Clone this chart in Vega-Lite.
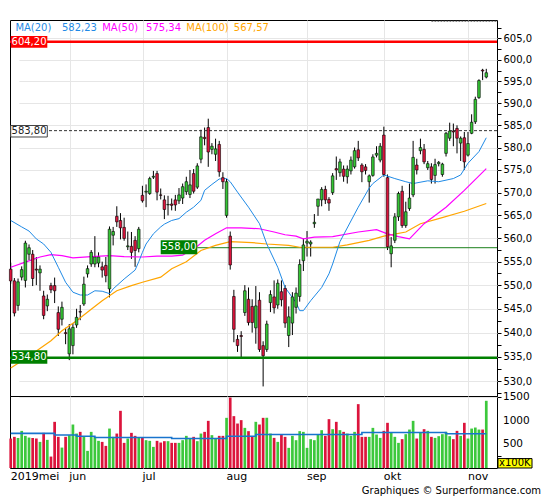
{
  "$schema": "https://vega.github.io/schema/vega-lite/v6.json",
  "padding": {"left": 7, "top": 19, "right": 45, "bottom": 20},
  "background": "white",
  "title": {"text": "Graphiques © Surperformance.com", "orient": "bottom", "anchor": "end", "font": "DejaVu Sans", "fontSize": 10, "fontWeight": "normal", "color": "#000", "offset": 4, "dx": 8},
  "config": {
    "font": "DejaVu Sans",
    "view": {"stroke": "#000", "strokeWidth": 1},
    "axis": {"labelFont": "DejaVu Sans", "labelColor": "#000", "gridColor": "#e6e6e6", "tickColor": "#000", "domain": false},
    "text": {"font": "DejaVu Sans"}
  },
  "datasets": {
    "ohlc": [
      {"date":"2019-05-10","open":553.4,"high":554.8,"low":550.3,"close":550.9,"volume":626},
      {"date":"2019-05-13","open":550.9,"high":551.5,"low":543.4,"close":544.1,"volume":662},
      {"date":"2019-05-14","open":545.7,"high":551.4,"low":544.6,"close":550.7,"volume":640},
      {"date":"2019-05-15","open":551.7,"high":554.0,"low":551.0,"close":553.3,"volume":789},
      {"date":"2019-05-16","open":551.0,"high":559.5,"low":549.5,"close":559.0,"volume":683},
      {"date":"2019-05-17","open":556.6,"high":558.7,"low":555.3,"close":558.0,"volume":647},
      {"date":"2019-05-20","open":556.6,"high":557.5,"low":549.8,"close":551.4,"volume":640},
      {"date":"2019-05-21","open":553.4,"high":556.0,"low":550.0,"close":553.2,"volume":626},
      {"date":"2019-05-22","open":552.6,"high":554.2,"low":548.8,"close":553.4,"volume":555},
      {"date":"2019-05-23","open":547.7,"high":548.8,"low":542.8,"close":543.6,"volume":747},
      {"date":"2019-05-24","open":545.6,"high":548.0,"low":544.5,"close":547.0,"volume":598},
      {"date":"2019-05-27","open":549.9,"high":550.5,"low":548.3,"close":549.0,"volume":243},
      {"date":"2019-05-28","open":549.9,"high":551.6,"low":546.2,"close":548.8,"volume":981},
      {"date":"2019-05-29","open":544.2,"high":545.5,"low":539.3,"close":540.7,"volume":662},
      {"date":"2019-05-30","open":542.8,"high":546.5,"low":541.5,"close":545.3,"volume":434},
      {"date":"2019-05-31","open":540.0,"high":541.0,"low":537.6,"close":539.8,"volume":662},
      {"date":"2019-06-03","open":535.6,"high":541.8,"low":534.3,"close":540.8,"volume":698},
      {"date":"2019-06-04","open":537.3,"high":542.0,"low":535.5,"close":541.1,"volume":924},
      {"date":"2019-06-05","open":541.6,"high":545.0,"low":541.0,"close":543.2,"volume":732},
      {"date":"2019-06-06","open":544.4,"high":545.8,"low":542.6,"close":544.3,"volume":768},
      {"date":"2019-06-07","open":546.0,"high":551.8,"low":545.6,"close":550.2,"volume":676},
      {"date":"2019-06-10","open":552.4,"high":554.2,"low":551.6,"close":553.5,"volume":364},
      {"date":"2019-06-11","open":554.5,"high":557.5,"low":553.9,"close":557.0,"volume":768},
      {"date":"2019-06-12","open":554.5,"high":560.5,"low":553.8,"close":556.0,"volume":662},
      {"date":"2019-06-13","open":554.7,"high":557.0,"low":553.8,"close":556.0,"volume":577},
      {"date":"2019-06-14","open":553.9,"high":555.0,"low":551.6,"close":553.2,"volume":555},
      {"date":"2019-06-17","open":554.2,"high":556.0,"low":550.6,"close":552.0,"volume":470},
      {"date":"2019-06-18","open":549.2,"high":562.6,"low":547.4,"close":562.0,"volume":838},
      {"date":"2019-06-19","open":560.7,"high":562.5,"low":558.5,"close":561.5,"volume":662},
      {"date":"2019-06-20","open":564.8,"high":567.0,"low":562.5,"close":563.6,"volume":732},
      {"date":"2019-06-21","open":563.9,"high":565.5,"low":559.8,"close":562.3,"volume":1215},
      {"date":"2019-06-24","open":562.4,"high":564.5,"low":559.5,"close":560.0,"volume":534},
      {"date":"2019-06-25","open":558.2,"high":561.5,"low":557.5,"close":558.4,"volume":626},
      {"date":"2019-06-26","open":558.3,"high":561.4,"low":555.6,"close":557.0,"volume":747},
      {"date":"2019-06-27","open":559.6,"high":560.5,"low":553.9,"close":557.4,"volume":683},
      {"date":"2019-06-28","open":557.8,"high":562.5,"low":557.0,"close":562.0,"volume":647},
      {"date":"2019-07-01","open":569.4,"high":571.5,"low":567.8,"close":568.2,"volume":647},
      {"date":"2019-07-02","open":570.1,"high":571.8,"low":566.8,"close":570.3,"volume":591},
      {"date":"2019-07-03","open":569.8,"high":573.5,"low":569.5,"close":573.1,"volume":577},
      {"date":"2019-07-04","open":573.4,"high":574.8,"low":573.0,"close":573.6,"volume":449},
      {"date":"2019-07-05","open":574.2,"high":574.8,"low":568.3,"close":570.1,"volume":577},
      {"date":"2019-07-08","open":569.5,"high":570.9,"low":568.5,"close":569.4,"volume":541},
      {"date":"2019-07-09","open":568.4,"high":569.4,"low":564.2,"close":566.3,"volume":570},
      {"date":"2019-07-10","open":567.3,"high":569.3,"low":565.0,"close":567.4,"volume":570},
      {"date":"2019-07-11","open":567.5,"high":568.7,"low":566.1,"close":567.2,"volume":534},
      {"date":"2019-07-12","open":568.4,"high":569.5,"low":566.0,"close":567.3,"volume":534},
      {"date":"2019-07-15","open":568.2,"high":571.0,"low":567.5,"close":569.5,"volume":534},
      {"date":"2019-07-16","open":568.8,"high":572.0,"low":567.5,"close":571.3,"volume":591},
      {"date":"2019-07-17","open":570.2,"high":573.5,"low":569.5,"close":572.4,"volume":683},
      {"date":"2019-07-18","open":569.6,"high":575.0,"low":568.8,"close":571.7,"volume":626},
      {"date":"2019-07-19","open":574.2,"high":575.2,"low":569.8,"close":570.3,"volume":662},
      {"date":"2019-07-22","open":571.2,"high":576.5,"low":570.8,"close":575.9,"volume":570},
      {"date":"2019-07-23","open":577.4,"high":584.0,"low":576.5,"close":582.4,"volume":732},
      {"date":"2019-07-24","open":582.3,"high":584.5,"low":580.5,"close":582.0,"volume":768},
      {"date":"2019-07-25","open":584.5,"high":586.5,"low":575.7,"close":579.0,"volume":1002},
      {"date":"2019-07-26","open":579.6,"high":581.0,"low":578.5,"close":580.3,"volume":698},
      {"date":"2019-07-29","open":578.5,"high":582.0,"low":577.0,"close":579.7,"volume":626},
      {"date":"2019-07-30","open":580.7,"high":581.5,"low":573.5,"close":574.6,"volume":683},
      {"date":"2019-07-31","open":573.3,"high":574.5,"low":570.8,"close":572.4,"volume":683},
      {"date":"2019-08-01","open":565.0,"high":573.0,"low":564.5,"close":572.4,"volume":1066},
      {"date":"2019-08-02","open":560.5,"high":561.5,"low":553.3,"close":554.3,"volume":1498},
      {"date":"2019-08-05","open":547.6,"high":549.0,"low":538.0,"close":540.7,"volume":1102},
      {"date":"2019-08-06","open":538.6,"high":539.5,"low":536.0,"close":537.3,"volume":945},
      {"date":"2019-08-07","open":539.4,"high":540.3,"low":534.8,"close":539.2,"volume":1017},
      {"date":"2019-08-08","open":544.2,"high":550.0,"low":543.5,"close":548.8,"volume":853},
      {"date":"2019-08-09","open":547.0,"high":549.5,"low":541.5,"close":542.1,"volume":783},
      {"date":"2019-08-12","open":545.5,"high":547.0,"low":540.0,"close":542.1,"volume":662},
      {"date":"2019-08-13","open":541.0,"high":549.8,"low":537.7,"close":545.6,"volume":981},
      {"date":"2019-08-14","open":546.8,"high":548.5,"low":536.0,"close":536.5,"volume":924},
      {"date":"2019-08-15","open":537.3,"high":538.2,"low":528.9,"close":535.2,"volume":1066},
      {"date":"2019-08-16","open":536.5,"high":542.5,"low":536.0,"close":541.8,"volume":1066},
      {"date":"2019-08-19","open":546.3,"high":548.9,"low":544.3,"close":548.0,"volume":732},
      {"date":"2019-08-20","open":547.5,"high":551.0,"low":544.0,"close":545.2,"volume":640},
      {"date":"2019-08-21","open":545.8,"high":551.2,"low":545.0,"close":550.4,"volume":555},
      {"date":"2019-08-22","open":548.6,"high":551.0,"low":545.5,"close":546.9,"volume":711},
      {"date":"2019-08-23","open":549.3,"high":550.0,"low":541.0,"close":542.0,"volume":662},
      {"date":"2019-08-26","open":539.4,"high":545.5,"low":537.0,"close":543.3,"volume":428},
      {"date":"2019-08-27","open":542.0,"high":548.5,"low":539.5,"close":547.5,"volume":683},
      {"date":"2019-08-28","open":545.3,"high":549.5,"low":544.0,"close":548.3,"volume":591},
      {"date":"2019-08-29","open":547.6,"high":555.5,"low":546.5,"close":554.4,"volume":783},
      {"date":"2019-08-30","open":555.2,"high":560.0,"low":553.0,"close":558.6,"volume":768},
      {"date":"2019-09-02","open":559.0,"high":561.6,"low":556.1,"close":559.4,"volume":428},
      {"date":"2019-09-03","open":558.8,"high":559.6,"low":556.1,"close":559.2,"volume":613},
      {"date":"2019-09-04","open":563.2,"high":565.3,"low":562.3,"close":563.5,"volume":591},
      {"date":"2019-09-05","open":567.0,"high":568.6,"low":564.9,"close":568.6,"volume":719},
      {"date":"2019-09-06","open":568.4,"high":571.2,"low":567.0,"close":570.7,"volume":804},
      {"date":"2019-09-09","open":570.7,"high":571.5,"low":567.5,"close":568.4,"volume":683},
      {"date":"2019-09-10","open":568.5,"high":569.0,"low":566.0,"close":567.7,"volume":1038},
      {"date":"2019-09-11","open":570.0,"high":574.3,"low":569.5,"close":573.7,"volume":825},
      {"date":"2019-09-12","open":575.3,"high":578.0,"low":572.8,"close":575.0,"volume":981},
      {"date":"2019-09-13","open":574.4,"high":577.5,"low":573.5,"close":576.8,"volume":804},
      {"date":"2019-09-16","open":575.2,"high":576.0,"low":572.4,"close":573.6,"volume":768},
      {"date":"2019-09-17","open":573.5,"high":576.0,"low":572.0,"close":575.2,"volume":732},
      {"date":"2019-09-18","open":574.8,"high":578.0,"low":574.0,"close":577.2,"volume":683},
      {"date":"2019-09-19","open":575.7,"high":580.0,"low":575.3,"close":579.3,"volume":768},
      {"date":"2019-09-20","open":579.5,"high":581.5,"low":577.0,"close":577.7,"volume":1357},
      {"date":"2019-09-23","open":576.1,"high":576.5,"low":572.3,"close":574.6,"volume":662},
      {"date":"2019-09-24","open":575.7,"high":576.3,"low":574.0,"close":574.9,"volume":662},
      {"date":"2019-09-25","open":572.4,"high":574.0,"low":567.8,"close":573.7,"volume":662},
      {"date":"2019-09-26","open":573.8,"high":578.5,"low":573.5,"close":577.9,"volume":853},
      {"date":"2019-09-27","open":578.3,"high":580.3,"low":577.8,"close":578.7,"volume":711},
      {"date":"2019-09-30","open":577.2,"high":581.0,"low":576.7,"close":580.3,"volume":640},
      {"date":"2019-10-01","open":582.8,"high":584.7,"low":573.5,"close":574.0,"volume":789},
      {"date":"2019-10-02","open":573.3,"high":574.0,"low":557.5,"close":558.2,"volume":960},
      {"date":"2019-10-03","open":556.7,"high":560.3,"low":553.8,"close":558.4,"volume":753},
      {"date":"2019-10-04","open":559.6,"high":565.5,"low":559.0,"close":564.7,"volume":662},
      {"date":"2019-10-07","open":564.7,"high":570.2,"low":563.8,"close":569.8,"volume":534},
      {"date":"2019-10-08","open":570.3,"high":571.5,"low":562.3,"close":562.8,"volume":613},
      {"date":"2019-10-09","open":562.8,"high":568.0,"low":562.3,"close":565.8,"volume":719},
      {"date":"2019-10-10","open":566.5,"high":572.0,"low":566.0,"close":568.8,"volume":817},
      {"date":"2019-10-11","open":569.5,"high":581.5,"low":569.0,"close":577.8,"volume":1002},
      {"date":"2019-10-14","open":576.1,"high":577.5,"low":574.0,"close":575.0,"volume":626},
      {"date":"2019-10-15","open":579.3,"high":582.0,"low":578.5,"close":580.0,"volume":753},
      {"date":"2019-10-16","open":579.6,"high":580.8,"low":576.3,"close":576.8,"volume":825},
      {"date":"2019-10-17","open":575.5,"high":577.0,"low":575.0,"close":576.4,"volume":789},
      {"date":"2019-10-18","open":575.7,"high":576.5,"low":572.0,"close":572.9,"volume":662},
      {"date":"2019-10-21","open":573.8,"high":577.5,"low":572.0,"close":576.2,"volume":640},
      {"date":"2019-10-22","open":576.4,"high":577.0,"low":575.8,"close":576.7,"volume":676},
      {"date":"2019-10-23","open":574.0,"high":576.6,"low":573.5,"close":576.3,"volume":719},
      {"date":"2019-10-24","open":578.7,"high":583.5,"low":578.0,"close":583.2,"volume":768},
      {"date":"2019-10-25","open":582.1,"high":585.6,"low":581.5,"close":583.7,"volume":676},
      {"date":"2019-10-28","open":583.7,"high":585.4,"low":580.3,"close":583.5,"volume":613},
      {"date":"2019-10-29","open":584.3,"high":585.0,"low":578.7,"close":582.1,"volume":789},
      {"date":"2019-10-30","open":581.0,"high":582.5,"low":577.0,"close":582.1,"volume":683},
      {"date":"2019-10-31","open":582.2,"high":583.5,"low":575.0,"close":576.8,"volume":960},
      {"date":"2019-11-01","open":578.3,"high":583.5,"low":578.0,"close":580.9,"volume":626},
      {"date":"2019-11-04","open":583.2,"high":587.5,"low":583.0,"close":585.7,"volume":838},
      {"date":"2019-11-05","open":585.8,"high":591.5,"low":585.3,"close":590.9,"volume":860},
      {"date":"2019-11-06","open":591.3,"high":595.5,"low":591.0,"close":595.2,"volume":817},
      {"date":"2019-11-07","open":597.6,"high":597.9,"low":595.3,"close":597.4,"volume":817},
      {"date":"2019-11-08","open":596.0,"high":597.9,"low":595.7,"close":597.0,"volume":1428}
    ],
    "ma20": [
      {"date":"2019-05-10","v":563.9},{"date":"2019-05-15","v":562.5},{"date":"2019-05-17","v":561.6},
      {"date":"2019-05-21","v":559.9},{"date":"2019-05-23","v":558.8},{"date":"2019-05-27","v":557.0},
      {"date":"2019-05-29","v":553.8},{"date":"2019-05-31","v":550.6},{"date":"2019-06-04","v":548.5},
      {"date":"2019-06-06","v":547.9},{"date":"2019-06-10","v":547.9},{"date":"2019-06-12","v":548.8},
      {"date":"2019-06-14","v":548.7},{"date":"2019-06-18","v":548.2},{"date":"2019-06-19","v":549.2},
      {"date":"2019-06-24","v":551.3},{"date":"2019-06-27","v":553.2},{"date":"2019-06-28","v":555.0},
      {"date":"2019-07-01","v":557.0},{"date":"2019-07-02","v":558.8},{"date":"2019-07-04","v":561.0},
      {"date":"2019-07-08","v":562.5},{"date":"2019-07-09","v":563.1},{"date":"2019-07-11","v":563.9},
      {"date":"2019-07-15","v":564.3},{"date":"2019-07-17","v":565.7},{"date":"2019-07-19","v":566.8},
      {"date":"2019-07-23","v":568.3},{"date":"2019-07-24","v":570.5},{"date":"2019-07-26","v":571.8},
      {"date":"2019-07-30","v":573.0},{"date":"2019-08-01","v":573.1},{"date":"2019-08-02","v":572.4},
      {"date":"2019-08-06","v":570.1},{"date":"2019-08-09","v":566.8},{"date":"2019-08-14","v":563.2},
      {"date":"2019-08-16","v":558.8},{"date":"2019-08-21","v":553.8},{"date":"2019-08-23","v":549.5},
      {"date":"2019-08-28","v":546.3},{"date":"2019-08-29","v":544.6},{"date":"2019-08-30","v":544.6},
      {"date":"2019-09-03","v":546.7},{"date":"2019-09-06","v":549.5},{"date":"2019-09-10","v":552.4},
      {"date":"2019-09-11","v":554.5},{"date":"2019-09-13","v":559.3},{"date":"2019-09-20","v":566.8},
      {"date":"2019-09-25","v":571.0},{"date":"2019-09-26","v":572.0},{"date":"2019-10-01","v":573.9},
      {"date":"2019-10-04","v":573.1},{"date":"2019-10-09","v":572.4},{"date":"2019-10-11","v":572.0},
      {"date":"2019-10-17","v":572.6},{"date":"2019-10-22","v":572.4},{"date":"2019-10-28","v":573.1},
      {"date":"2019-10-30","v":573.9},{"date":"2019-11-01","v":576.5},{"date":"2019-11-06","v":579.1},
      {"date":"2019-11-08","v":582.2}
    ],
    "ma50": [
      {"date":"2019-05-10","v":553.8},{"date":"2019-05-16","v":554.9},{"date":"2019-05-22","v":556.0},
      {"date":"2019-05-27","v":556.5},{"date":"2019-05-30","v":556.3},{"date":"2019-06-04","v":555.8},
      {"date":"2019-06-11","v":556.1},{"date":"2019-06-18","v":556.3},{"date":"2019-06-24","v":556.1},
      {"date":"2019-07-01","v":556.0},{"date":"2019-07-05","v":556.2},{"date":"2019-07-11","v":556.2},
      {"date":"2019-07-16","v":556.4},{"date":"2019-07-22","v":558.3},{"date":"2019-07-24","v":559.6},
      {"date":"2019-07-29","v":561.0},{"date":"2019-08-01","v":562.3},{"date":"2019-08-07","v":562.3},
      {"date":"2019-08-14","v":562.1},{"date":"2019-08-20","v":561.4},{"date":"2019-08-23","v":560.8},
      {"date":"2019-08-28","v":560.5},{"date":"2019-08-30","v":559.9},{"date":"2019-09-04","v":560.3},
      {"date":"2019-09-11","v":560.4},{"date":"2019-09-20","v":561.4},{"date":"2019-09-27","v":561.9},
      {"date":"2019-10-02","v":561.0},{"date":"2019-10-07","v":560.4},{"date":"2019-10-10","v":559.9},
      {"date":"2019-10-16","v":563.2},{"date":"2019-10-24","v":566.8},{"date":"2019-10-31","v":570.5},
      {"date":"2019-11-08","v":575.3}
    ],
    "ma100": [
      {"date":"2019-05-10","v":532.7},{"date":"2019-05-15","v":534.1},{"date":"2019-05-21","v":536.2},
      {"date":"2019-05-27","v":538.3},{"date":"2019-05-30","v":540.4},{"date":"2019-06-05","v":542.5},
      {"date":"2019-06-11","v":544.9},{"date":"2019-06-14","v":546.7},{"date":"2019-06-20","v":548.8},
      {"date":"2019-06-26","v":549.9},{"date":"2019-07-01","v":550.6},{"date":"2019-07-08","v":551.7},
      {"date":"2019-07-11","v":553.5},{"date":"2019-07-17","v":555.0},{"date":"2019-07-23","v":557.4},
      {"date":"2019-07-29","v":558.5},{"date":"2019-08-02","v":559.3},{"date":"2019-08-12","v":559.1},
      {"date":"2019-08-16","v":558.8},{"date":"2019-08-26","v":558.5},{"date":"2019-08-29","v":558.1},
      {"date":"2019-09-06","v":558.1},{"date":"2019-09-11","v":558.1},{"date":"2019-09-17","v":558.6},
      {"date":"2019-09-25","v":559.6},{"date":"2019-10-01","v":560.5},{"date":"2019-10-09","v":561.4},
      {"date":"2019-10-15","v":563.2},{"date":"2019-10-22","v":564.3},{"date":"2019-10-31","v":565.9},
      {"date":"2019-11-08","v":567.6}
    ],
    "vma": [
      {"date":"2019-05-10","v":735},{"date":"2019-05-28","v":700},{"date":"2019-06-05","v":676},
      {"date":"2019-06-12","v":648},{"date":"2019-07-11","v":628},{"date":"2019-08-01","v":676},
      {"date":"2019-08-13","v":711},{"date":"2019-09-23","v":753},{"date":"2019-10-24","v":728},
      {"date":"2019-11-08","v":728}
    ],
    "one": [{}]
  },
  "vconcat": [
    {
      "width": 487,
      "height": 376,
      "layer": [
        {"data": {"name": "ohlc"}, "mark": {"type": "rule", "color": "#000000", "strokeWidth": 1},
         "encoding": {
           "x": {"field": "date", "type": "ordinal", "scale": {"type": "band", "range": [-1.1, 478.1], "paddingInner": 0, "paddingOuter": 0},
                 "axis": {"title": null, "values": ["2019-06-03","2019-07-01","2019-08-01","2019-09-02","2019-10-01","2019-11-01"], "bandPosition": 0.75, "labels": false, "ticks": false, "domain": false, "grid": true, "gridColor": "#e6e6e6"}},
           "y": {"field": "low", "type": "quantitative", "scale": {"type": "log", "domain": [526.95, 609.28], "nice": false},
                 "axis": {"orient": "right", "title": null,
                          "values": [527.5,530,532.5,535,537.5,540,542.5,545,547.5,550,552.5,555,557.5,560,562.5,565,567.5,570,572.5,575,577.5,580,582.5,585,587.5,590,592.5,595,597.5,600,602.5,605,607.5],
                          "labelExpr": "datum.value % 5 == 0 ? replace(format(datum.value, '.1f'), '.', ',') : ''",
                          "gridOpacity": {"condition": {"test": "datum.value % 5 != 0", "value": 0}, "value": 1},
                          "grid": true, "gridColor": "#e6e6e6", "tickSize": 4, "labelFontSize": 10, "labelPadding": 2, "labelOverlap": false, "labelBound": false}},
           "y2": {"field": "high"}
         }},
        {"data": {"name": "one"}, "mark": {"type": "rule", "color": "#ff0000", "strokeWidth": 2.5}, "encoding": {"y": {"datum": 604.2}}},
        {"data": {"name": "one"}, "mark": {"type": "rule", "color": "#333333", "strokeWidth": 1, "strokeDash": [3, 2]}, "encoding": {"y": {"datum": 583.8}}},
        {"data": {"name": "one"}, "mark": {"type": "rule", "color": "#008000", "strokeWidth": 2.5}, "encoding": {"y": {"datum": 534.8}}},
        {"data": {"name": "one"}, "mark": {"type": "rule", "color": "#1a7f1a", "strokeWidth": 1}, "encoding": {"x": {"datum": "2019-07-22"}, "x2": {"value": "width"}, "y": {"datum": 558.0}}},
        {"data": {"name": "one"}, "mark": {"type": "rule", "color": "#555555", "strokeWidth": 1, "strokeDash": [2, 1]}, "encoding": {"x": {"datum": "2019-10-18"}, "x2": {"value": "width"}, "y": {"datum": 609.0}}},
        {"data": {"name": "ma100"}, "mark": {"type": "line", "color": "#FFA500", "strokeWidth": 1.2},
         "encoding": {"x": {"field": "date", "type": "ordinal", "title": null}, "y": {"field": "v", "type": "quantitative", "title": null}}},
        {"data": {"name": "ma50"}, "mark": {"type": "line", "color": "#FF00FF", "strokeWidth": 1.2},
         "encoding": {"x": {"field": "date", "type": "ordinal", "title": null}, "y": {"field": "v", "type": "quantitative", "title": null}}},
        {"data": {"name": "ma20"}, "mark": {"type": "line", "color": "#1F8AE6", "strokeWidth": 1},
         "encoding": {"x": {"field": "date", "type": "ordinal", "title": null}, "y": {"field": "v", "type": "quantitative", "title": null}}},
        {"data": {"name": "ohlc"}, "mark": {"type": "bar", "width": {"band": 0.72}, "stroke": "#000000", "strokeWidth": 0.6},
         "encoding": {"x": {"field": "date", "type": "ordinal", "title": null}, "y": {"field": "open", "type": "quantitative", "title": null}, "y2": {"field": "close"},
                      "color": {"condition": {"test": "datum.close >= datum.open", "value": "#34C634"}, "value": "#DC143C"}}},
        {"data": {"name": "one"}, "mark": {"type": "rect", "color": "#ff0000"}, "encoding": {"x": {"datum": "2019-05-10"}, "x2": {"datum": "2019-05-24"}, "y": {"datum": 605.53}, "y2": {"datum": 602.8}}},
        {"data": {"name": "one"}, "mark": {"type": "text", "text": "604,20", "color": "#ffffff", "fontSize": 10, "align": "center", "baseline": "middle"}, "encoding": {"x": {"datum": "2019-05-17"}, "y": {"datum": 604.2}}},
        {"data": {"name": "one"}, "mark": {"type": "rect", "color": "#ffffff", "stroke": "#444444", "strokeWidth": 1}, "encoding": {"x": {"datum": "2019-05-10"}, "x2": {"datum": "2019-05-24"}, "y": {"datum": 584.96}, "y2": {"datum": 582.37}}},
        {"data": {"name": "one"}, "mark": {"type": "text", "text": "583,80", "color": "#222222", "fontSize": 10, "align": "center", "baseline": "middle"}, "encoding": {"x": {"datum": "2019-05-17"}, "y": {"datum": 583.7}}},
        {"data": {"name": "one"}, "mark": {"type": "rect", "color": "#008000"}, "encoding": {"x": {"datum": "2019-07-08"}, "x2": {"datum": "2019-07-22"}, "y": {"datum": 559.6}, "y2": {"datum": 556.59}}},
        {"data": {"name": "one"}, "mark": {"type": "text", "text": "558,00", "color": "#ffffff", "fontSize": 10, "align": "center", "baseline": "middle"}, "encoding": {"x": {"datum": "2019-07-15"}, "y": {"datum": 558.1}}},
        {"data": {"name": "one"}, "mark": {"type": "rect", "color": "#008000"}, "encoding": {"x": {"datum": "2019-05-10"}, "x2": {"datum": "2019-05-24"}, "y": {"datum": 536.34}, "y2": {"datum": 533.57}}},
        {"data": {"name": "one"}, "mark": {"type": "text", "text": "534,80", "color": "#ffffff", "fontSize": 10, "align": "center", "baseline": "middle"}, "encoding": {"x": {"datum": "2019-05-17"}, "y": {"datum": 534.9}}},
        {"data": {"name": "one"}, "mark": {"type": "text", "text": "MA(20)", "color": "#1F8AE6", "fontSize": 10, "align": "left", "baseline": "middle", "dx": 1}, "encoding": {"x": {"datum": "2019-05-13"}, "y": {"datum": 607.4}}},
        {"data": {"name": "one"}, "mark": {"type": "text", "text": "582,23", "color": "#1F8AE6", "fontSize": 10, "align": "left", "baseline": "middle"}, "encoding": {"x": {"datum": "2019-05-30"}, "y": {"datum": 607.4}}},
        {"data": {"name": "one"}, "mark": {"type": "text", "text": "MA(50)", "color": "#FF00FF", "fontSize": 10, "align": "left", "baseline": "middle"}, "encoding": {"x": {"datum": "2019-06-14"}, "y": {"datum": 607.4}}},
        {"data": {"name": "one"}, "mark": {"type": "text", "text": "575,34", "color": "#FF00FF", "fontSize": 10, "align": "left", "baseline": "middle"}, "encoding": {"x": {"datum": "2019-07-02"}, "y": {"datum": 607.4}}},
        {"data": {"name": "one"}, "mark": {"type": "text", "text": "MA(100)", "color": "#FFA500", "fontSize": 10, "align": "left", "baseline": "middle"}, "encoding": {"x": {"datum": "2019-07-17"}, "y": {"datum": 607.4}}},
        {"data": {"name": "one"}, "mark": {"type": "text", "text": "567,57", "color": "#FFA500", "fontSize": 10, "align": "left", "baseline": "middle"}, "encoding": {"x": {"datum": "2019-08-05"}, "y": {"datum": 607.4}}}
      ]
    },
    {
      "width": 487,
      "height": 72,
      "layer": [
        {"data": {"name": "ohlc"}, "mark": {"type": "bar", "width": {"band": 0.74}},
         "encoding": {
           "x": {"field": "date", "type": "ordinal", "scale": {"type": "band", "range": [-1.1, 478.1], "paddingInner": 0, "paddingOuter": 0},
                 "axis": {"title": null, "values": ["2019-05-10","2019-06-03","2019-07-01","2019-08-01","2019-09-02","2019-10-01","2019-11-01"],
                          "labelExpr": "datum.value == '2019-05-10' ? '2019mei' : datum.value == '2019-06-03' ? 'jun' : datum.value == '2019-07-01' ? 'jul' : datum.value == '2019-08-01' ? 'aug' : datum.value == '2019-09-02' ? 'sep' : datum.value == '2019-10-01' ? 'okt' : 'nov'",
                          "bandPosition": 0.75, "labelAlign": "left", "labelBaseline": "top", "labelFontSize": 11, "labelPadding": 2, "labelOffset": 0, "labelAngle": 0, "labelOverlap": false, "labelBound": false, "labelFlush": false,
                          "ticks": false, "domain": false, "grid": true, "gridColor": "#e6e6e6",
                          "gridOpacity": {"condition": {"test": "datum.value == '2019-05-10'", "value": 0}, "value": 1}}},
           "y": {"field": "volume", "type": "quantitative", "scale": {"domain": [0, 1530], "nice": false},
                 "axis": {"orient": "right", "title": null, "values": [250, 500, 750, 1000, 1250, 1500], "labels": false,
                          "gridOpacity": {"condition": {"test": "datum.value % 500 != 0", "value": 0}, "value": 1},
                          "grid": true, "gridColor": "#e6e6e6", "tickSize": 4}},
           "color": {"condition": {"test": "datum.close >= datum.open", "value": "#3CC83C"}, "value": "#DC143C"}
         }},
        {"data": {"name": "vma"}, "mark": {"type": "line", "interpolate": "step-after", "color": "#1874CD", "strokeWidth": 1.6},
         "encoding": {"x": {"field": "date", "type": "ordinal", "title": null}, "y": {"field": "v", "type": "quantitative", "title": null}}},
        {"data": {"name": "one"}, "mark": {"type": "text", "text": "1500", "color": "#000000", "fontSize": 10.5, "align": "left", "baseline": "middle", "dx": 6},
         "encoding": {"x": {"value": "width"}, "y": {"datum": 1500}}},
        {"data": {"name": "one"}, "mark": {"type": "text", "text": "1000", "color": "#000000", "fontSize": 10.5, "align": "left", "baseline": "middle", "dx": 6},
         "encoding": {"x": {"value": "width"}, "y": {"datum": 1000}}},
        {"data": {"name": "one"}, "mark": {"type": "text", "text": "500", "color": "#000000", "fontSize": 10.5, "align": "left", "baseline": "middle", "dx": 6},
         "encoding": {"x": {"value": "width"}, "y": {"datum": 500}}},
        {"data": {"name": "one"}, "mark": {"type": "rect", "fill": "#ffff00", "stroke": "#000000", "strokeWidth": 1, "xOffset": 1, "x2Offset": 35},
         "encoding": {"x": {"value": "width"}, "x2": {"value": "width"}, "y": {"datum": 0}, "y2": {"datum": 200}}},
        {"data": {"name": "one"}, "mark": {"type": "text", "text": "x100K", "color": "#000000", "fontSize": 10, "align": "left", "baseline": "middle", "dx": 2},
         "encoding": {"x": {"value": "width"}, "y": {"datum": 100}}}
      ]
    }
  ],
  "spacing": 0,
  "bounds": "flush"
}
